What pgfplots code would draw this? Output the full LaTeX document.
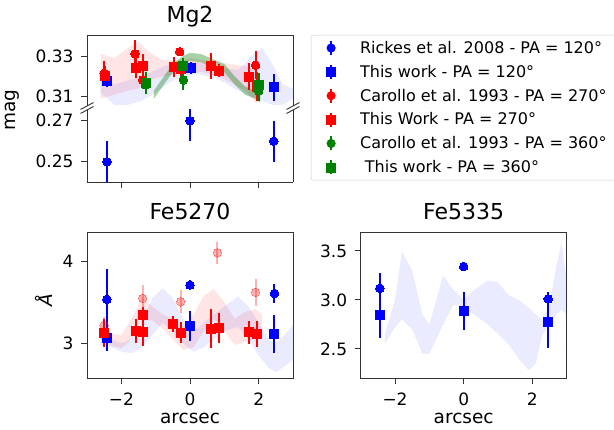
\documentclass[border=0pt]{standalone}
\usepackage{fontspec}
\setmainfont{DejaVu Sans}
\usepackage{pgfplots}
\pgfplotsset{compat=1.18}
\definecolor{mplgreen}{RGB}{0,128,0}
\definecolor{spine}{gray}{0.2}
\newcommand{\fs}[1]{\fontsize{#1}{#1}\selectfont}
\pgfplotsset{
  base/.style={
    scale only axis, width=206pt,
    xmin=-3, xmax=3,
    /pgf/number format/assume math mode=true,
    tick align=outside, major tick length=6pt,
    tick style={line width=0.9pt, color=spine},
    axis line style={line width=0.9pt, color=spine},
    tick label style={font=\fs{17}},
    xticklabel style={yshift=-5pt},
    yticklabel style={xshift=-4pt},
    title style={font=\fs{22}, at={(0.5,1)}, anchor=base, yshift=6.7pt},
    label style={font=\fs{18.5}},
    xtick={-2,0,2}, xticklabels={−2,0,2},
  },
  pts/.style={only marks, color=#1, mark options={fill=#1, draw=#1, line width=0pt},
    /pgfplots/error bars/y dir=both, /pgfplots/error bars/y explicit, /pgfplots/error bars/error mark=none,
    /pgfplots/error bars/error bar style={line width=2pt, color=#1}},
  circ/.style={mark=*, mark size=4.3pt, pts=#1},
  sq/.style={mark=square*, mark size=4.5pt, pts=#1},
  band/.style={draw=none, forget plot, fill=#1},
}
\begin{document}
\begin{tikzpicture}
\useasboundingbox (0,0) rectangle (614pt,429pt);
% ---------------- Mg2 upper ----------------
\begin{axis}[base, name=mgU, at={(87pt,323pt)}, anchor=south west, height=71pt,
  ymin=0.3054, ymax=0.3403, axis x line*=top, axis y line*=box, xtick=\empty,
  ytick={0.31,0.33}, yticklabels={0.31,0.33}, ytick pos=left,
  title={Mg2},
  legend style={at={(1.087,1)}, anchor=north west, font=\fs{16}, draw=black!20, rounded corners=2pt,
    fill=white, inner xsep=2pt, inner ysep=4pt, row sep=6.2pt, legend cell align=left},
  legend image code/.code={\path[draw=none] (0pt,0pt) -- (45pt,0pt); \draw[#1, mark=none, line width=2pt] (18pt,-7pt) -- (18pt,7pt); \draw[#1] plot coordinates {(18pt,0pt)};},
]
\addlegendimage{blue, mark=*, mark size=4.3pt, mark options={fill=blue}}
\addlegendentry{Rickes et al. 2008 - PA = 120°}
\addlegendimage{blue, mark=square*, mark size=4.5pt, mark options={fill=blue}}
\addlegendentry{This work - PA = 120°}
\addlegendimage{red, mark=*, mark size=4.3pt, mark options={fill=red}}
\addlegendentry{Carollo et al. 1993 - PA = 270°\hspace*{22pt}}
\addlegendimage{red, mark=square*, mark size=4.5pt, mark options={fill=red}}
\addlegendentry{This Work - PA = 270°}
\addlegendimage{mplgreen, mark=*, mark size=4.3pt, mark options={fill=mplgreen}}
\addlegendentry{Carollo et al. 1993 - PA = 360°}
\addlegendimage{mplgreen, mark=square*, mark size=4.5pt, mark options={fill=mplgreen}}
\addlegendentry{\hspace{0.3em}This work - PA = 360°}
% bands (upper edge left to right, then lower edge right to left)
\addplot[band=red, fill opacity=0.1] coordinates {(-2.6,0.331)(-2.2,0.329)(-1.8,0.334)(-1.5,0.337)(-1.2,0.332)(-0.8,0.328)(-0.4,0.328)(0,0.329)(0.4,0.328)(0.8,0.327)(1.2,0.326)(1.6,0.325)(1.9,0.323)(2.0,0.320)
 (2.0,0.307)(1.9,0.307)(1.6,0.313)(1.2,0.317)(0.8,0.320)(0.4,0.322)(0,0.322)(-0.4,0.321)(-0.8,0.320)(-1.2,0.318)(-1.5,0.314)(-1.8,0.313)(-2.2,0.311)(-2.6,0.309)} -- cycle;
\addplot[band=blue, fill opacity=0.08] coordinates {(-2.6,0.319)(-2.2,0.316)(-1.8,0.318)(-1.4,0.320)(-1.0,0.323)(-0.6,0.326)(-0.2,0.327)(0.2,0.327)(0.6,0.326)(1.0,0.324)(1.4,0.323)(1.8,0.330)(2.1,0.334)(2.4,0.326)(2.7,0.316)(3.0,0.314)
 (3.0,0.309)(2.7,0.306)(2.4,0.306)(2.1,0.308)(1.8,0.310)(1.4,0.313)(1.0,0.317)(0.6,0.320)(0.2,0.321)(-0.2,0.320)(-0.6,0.317)(-1.0,0.312)(-1.4,0.308)(-1.8,0.306)(-2.2,0.306)(-2.6,0.312)} -- cycle;
\addplot[band=mplgreen, fill opacity=0.35] coordinates {(-1.05,0.313)(-0.8,0.319)(-0.5,0.326)(-0.2,0.330)(0.0,0.3315)(0.3,0.331)(0.6,0.329)(1.0,0.326)(1.3,0.320)(1.6,0.315)(1.9,0.313)(2.05,0.311)
 (2.05,0.307)(1.9,0.309)(1.6,0.311)(1.3,0.316)(1.0,0.322)(0.6,0.325)(0.3,0.327)(0.0,0.3275)(-0.2,0.326)(-0.5,0.322)(-0.8,0.315)(-1.05,0.309)} -- cycle;
% data
\addplot[sq=blue, forget plot] coordinates {(-2.42,0.3177)+-(0,0.003) (0.02,0.324)+-(0,0.003) (2.46,0.3146)+-(0,0.0065)};
\addplot[circ=red, forget plot] coordinates {(-2.5,0.3215)+-(0,0.006) (-1.6,0.331)+-(0,0.007) (-1.38,0.3182)+-(0,0.004) (-0.3,0.3321)+-(0,0.0018) (1.91,0.3255)+-(0,0.007)};
\addplot[sq=red, forget plot] coordinates {(-2.48,0.3200)+-(0,0.005) (-1.58,0.324)+-(0,0.005) (-1.38,0.3251)+-(0,0.006) (-0.48,0.3245)+-(0,0.005) (-0.27,0.3235)+-(0,0.004) (0.62,0.3251)+-(0,0.0065) (0.84,0.3228)+-(0,0.003) (1.72,0.3198)+-(0,0.0065) (1.94,0.3149)+-(0,0.007)};
\addplot[circ=mplgreen, forget plot] coordinates {(-1.29,0.3158)+-(0,0.004) (-0.19,0.3182)+-(0,0.005) (2.0,0.3128)+-(0,0.005)};
\addplot[sq=mplgreen, forget plot] coordinates {(-1.29,0.3166)+-(0,0.0055) (-0.19,0.3252)+-(0,0.0037) (2.0,0.3158)+-(0,0.006)};
\end{axis}
% ---------------- Mg2 lower ----------------
\begin{axis}[base, name=mgL, at={(87pt,247pt)}, anchor=south west, height=72pt,
  ymin=0.2401, ymax=0.2752, axis x line*=bottom, axis y line*=box,
  xticklabels={,,}, ytick={0.25,0.27}, yticklabels={0.25,0.27}, ytick pos=left]
\addplot[circ=blue] coordinates {(-2.42,0.25)+-(0,0.01) (0,0.27)+-(0,0.01) (2.44,0.26)+-(0,0.01)};
\end{axis}
\foreach \a in {mgU.south west, mgU.south east, mgL.north west, mgL.north east}{
  \draw[spine, line width=0.9pt] ([xshift=-6.5pt,yshift=-3.5pt]\a) -- ([xshift=6.5pt,yshift=3.5pt]\a);
}
\node[rotate=90, font=\fs{18.5}] at (12pt,319pt) {mag};
% ---------------- Fe5270 ----------------
\begin{axis}[base, at={(87pt,50.7pt)}, anchor=south west, height=146pt,
  ymin=2.575, ymax=4.35, ytick={3,4}, yticklabels={3,4}, tick pos=left,
  title={Fe5270}, xlabel={arcsec}, ylabel={\textit{Å}},
  xlabel style={at={(rel axis cs:0.5,0)}, anchor=base, yshift=-45.5pt},
  ylabel style={at={(rel axis cs:0,0.5)}, anchor=center, yshift=43pt, xshift=5pt}]
\addplot[band=red, fill opacity=0.1] coordinates {(-2.6,3.22)(-2.3,3.12)(-2.0,3.10)(-1.7,3.30)(-1.4,3.56)(-1.1,3.45)(-0.8,3.35)(-0.5,3.30)(-0.2,3.20)(0.1,3.35)(0.4,3.58)(0.7,3.66)(1.0,3.50)(1.3,3.30)(1.6,3.38)(1.9,3.42)(2.1,3.35)
 (2.1,3.05)(1.9,3.05)(1.6,3.02)(1.3,2.98)(1.0,3.15)(0.7,3.30)(0.4,3.15)(0.1,2.95)(-0.2,2.92)(-0.5,3.05)(-0.8,3.18)(-1.1,3.28)(-1.4,3.28)(-1.7,3.05)(-2.0,2.94)(-2.3,2.97)(-2.6,3.05)} -- cycle;
\addplot[band=blue, fill opacity=0.08] coordinates {(-2.6,3.15)(-2.3,3.05)(-2.0,3.00)(-1.7,3.05)(-1.4,3.25)(-1.1,3.55)(-0.8,3.67)(-0.5,3.55)(-0.2,3.30)(0.1,3.15)(0.4,3.25)(0.7,3.35)(1.0,3.45)(1.4,3.57)(1.7,3.45)(2.0,3.25)(2.3,3.05)(2.5,3.00)(2.75,3.10)(3.0,3.22)
 (3.0,2.80)(2.75,2.72)(2.5,2.65)(2.3,2.70)(2.0,2.85)(1.7,3.05)(1.4,3.20)(1.0,3.15)(0.7,3.05)(0.4,2.95)(0.1,2.90)(-0.2,3.00)(-0.5,3.15)(-0.8,3.25)(-1.1,3.10)(-1.4,2.95)(-1.7,2.88)(-2.0,2.90)(-2.3,2.95)(-2.6,2.98)} -- cycle;
\addplot[circ=blue] coordinates {(-2.42,3.535)+-(0,0.37) (0,3.708)+-(0,0.06) (2.46,3.607)+-(0,0.12)};
\addplot[sq=blue] coordinates {(-2.42,3.06)+-(0,0.15) (0,3.21)+-(0,0.18) (2.46,3.113)+-(0,0.23)};
\addplot[circ=red, opacity=0.3] coordinates {(-2.5,3.22)+-(0,0.1) (-1.38,3.547)+-(0,0.16) (-0.27,3.505)+-(0,0.14) (0.8,4.10)+-(0,0.13) (1.91,3.62)+-(0,0.16)};
\addplot[sq=red] coordinates {(-2.5,3.121)+-(0,0.17) (-1.58,3.149)+-(0,0.15) (-1.38,3.344)+-(0,0.1) (-1.36,3.134)+-(0,0.17) (-0.49,3.234)+-(0,0.1) (-0.27,3.129)+-(0,0.13) (0.6,3.18)+-(0,0.24) (0.84,3.19)+-(0,0.18) (1.72,3.134)+-(0,0.14) (1.94,3.113)+-(0,0.16)};
\end{axis}
% ---------------- Fe5335 ----------------
\begin{axis}[base, at={(360.7pt,50.7pt)}, anchor=south west, height=146pt,
  ymin=2.2, ymax=3.69, ytick={2.5,3.0,3.5}, yticklabels={2.5,3.0,3.5}, tick pos=left,
  title={Fe5335}, xlabel={arcsec},
  xlabel style={at={(rel axis cs:0.5,0)}, anchor=base, yshift=-45.5pt}]
\addplot[band=blue, fill opacity=0.08] coordinates {(-2.3,2.65)(-2.0,3.0)(-1.8,3.50)(-1.5,3.30)(-1.2,2.85)(-1.0,2.75)(-0.8,3.0)(-0.6,3.25)(-0.3,3.10)(0.0,3.0)(0.3,3.10)(0.7,3.20)(1.0,3.18)(1.3,3.05)(1.6,3.00)(1.9,2.92)(2.1,2.85)(2.3,2.80)(2.5,2.95)(2.7,3.35)(2.85,3.58)(3.0,3.2)
 (3.0,2.85)(2.85,2.9)(2.7,2.85)(2.5,2.75)(2.3,2.65)(2.1,2.35)(1.9,2.28)(1.6,2.40)(1.3,2.55)(1.0,2.65)(0.7,2.75)(0.3,2.85)(0.0,2.92)(-0.3,2.95)(-0.6,2.75)(-0.8,2.6)(-1.0,2.45)(-1.2,2.45)(-1.5,2.70)(-1.8,2.80)(-2.0,2.72)(-2.3,2.55)} -- cycle;
\addplot[circ=blue] coordinates {(-2.44,3.119)+-(0,0.16) (0,3.34)+-(0,0.02) (2.46,3.01)+-(0,0.07)};
\addplot[sq=blue] coordinates {(-2.44,2.847)+-(0,0.24) (0,2.888)+-(0,0.19) (2.46,2.77)+-(0,0.26)};
\end{axis}
\end{tikzpicture}
\end{document}
